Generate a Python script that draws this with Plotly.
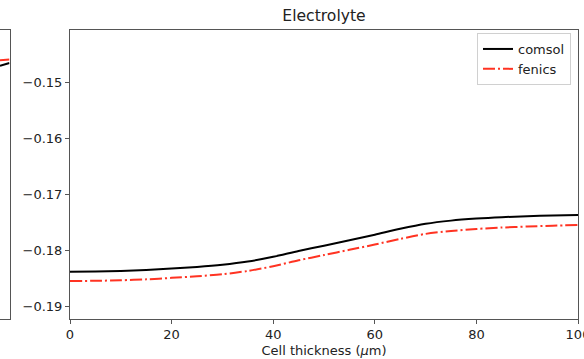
import plotly.graph_objects as go

# ---- data ----
thickness = [0, 5, 10, 15, 20, 25, 30, 35, 40, 45, 50, 55, 60, 65, 70, 75, 80, 85, 90, 95, 100]
comsol = [-0.18375, -0.18372, -0.18362, -0.18345, -0.18318, -0.18290, -0.18252, -0.18195,
          -0.18110, -0.18005, -0.17910, -0.17815, -0.17715, -0.17610, -0.17520, -0.17463,
          -0.17427, -0.17402, -0.17385, -0.17372, -0.17362]
fenics = [-0.18541, -0.18538, -0.18528, -0.18512, -0.18485, -0.18457, -0.18420, -0.18362,
          -0.18278, -0.18172, -0.18078, -0.17985, -0.17890, -0.17790, -0.17700, -0.17648,
          -0.17612, -0.17587, -0.17568, -0.17553, -0.17541]

# partially visible neighbouring panel (only its right end is in view)
left_x = [98, 99, 100]
left_comsol = [0.874, 0.879, 0.884]
left_fenics = [0.894, 0.895, 0.896]

x_ticks = [0, 20, 40, 60, 80, 100]
x_ticktext = ["0", "20", "40", "60", "80", "100"]
y_ticks = [-0.19, -0.18, -0.17, -0.16, -0.15]
y_ticktext = ["\u22120.19", "\u22120.18", "\u22120.17", "\u22120.16", "\u22120.15"]

W, H = 584, 359
FONT = "DejaVu Sans"
RED = "#ff3322"
AXC = "#555555"
DASHDOT = "12px,3px,2px,3px"

fig = go.Figure()
fig.add_trace(go.Scatter(x=thickness, y=comsol, mode="lines", name="comsol",
                         line=dict(color="black", width=2, shape="spline", smoothing=0.8)))
fig.add_trace(go.Scatter(x=thickness, y=fenics, mode="lines", name="fenics",
                         line=dict(color=RED, width=2, dash=DASHDOT, shape="spline", smoothing=0.8)))
fig.add_trace(go.Scatter(x=left_x, y=left_comsol, mode="lines", showlegend=False,
                         xaxis="x2", yaxis="y2", line=dict(color="black", width=2)))
fig.add_trace(go.Scatter(x=left_x, y=left_fenics, mode="lines", showlegend=False,
                         xaxis="x2", yaxis="y2", line=dict(color=RED, width=2, dash=DASHDOT)))

ydom = [(H - 318.5) / H, (H - 29.5) / H]

fig.update_layout(
    width=W, height=H,
    margin=dict(l=0, r=0, t=0, b=0, autoexpand=False),
    paper_bgcolor="white", plot_bgcolor="white",
    font=dict(family=FONT, size=13, color="#222222"),
    title=dict(text="Electrolyte", x=324 / W, xanchor="center", xref="paper",
               y=1 - 16 / H, yanchor="middle", yref="paper",
               font=dict(family=FONT, size=15.6, color="#222222")),
    xaxis=dict(domain=[70 / W, 578 / W], range=[0, 100], tickvals=x_ticks, ticktext=x_ticktext,
               showline=True, linecolor=AXC, linewidth=1, mirror=True, automargin=False,
               ticks="outside", ticklen=4, tickcolor=AXC, showgrid=False, zeroline=False,
               ticklabeloverflow="allow",
               title=dict(text="Cell thickness (<i>\u03bc</i>m)", standoff=4,
                          font=dict(family=FONT, size=13))),
    yaxis=dict(domain=ydom, range=[-0.19211, -0.14050], tickvals=y_ticks, ticktext=y_ticktext,
               showline=True, linecolor=AXC, linewidth=1, mirror=True, automargin=False,
               ticks="outside", ticklen=4, tickcolor=AXC, showgrid=False, zeroline=False),
    xaxis2=dict(domain=[0, 9.5 / W], range=[98, 100], anchor="y2", showticklabels=False,
                showline=True, linecolor=AXC, linewidth=1, mirror=True, ticks="", automargin=False,
                showgrid=False, zeroline=False),
    yaxis2=dict(domain=ydom, range=[0, 1], anchor="x2", side="right", showticklabels=False,
                showline=True, linecolor=AXC, linewidth=1, mirror=False, ticks="", automargin=False,
                showgrid=False, zeroline=False),
    legend=dict(x=571 / W, xanchor="right", y=1 - 33 / H, yanchor="top",
                bgcolor="rgba(255,255,255,0.8)", bordercolor="#d0d0d0", borderwidth=1,
                font=dict(family=FONT, size=13, color="#222222"),
                itemwidth=30, tracegroupgap=0),
    showlegend=True,
)

fig.write_html("out.html")
